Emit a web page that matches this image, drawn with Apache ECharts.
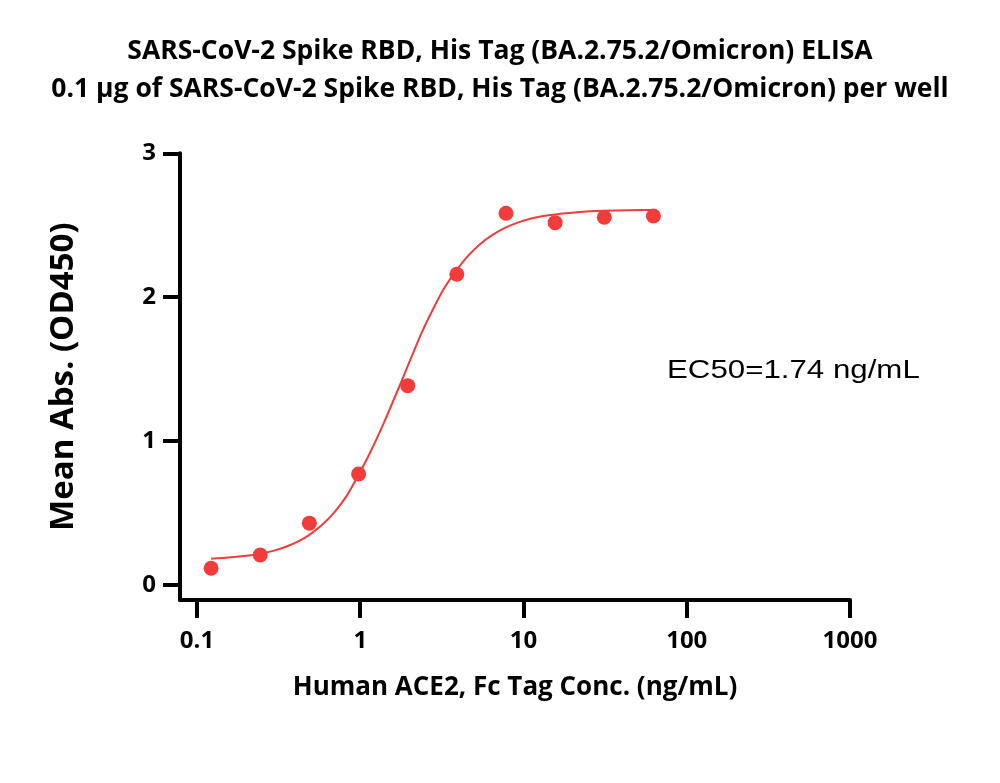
<!DOCTYPE html>
<html>
<head>
<meta charset="utf-8">
<script src="https://cdn.jsdelivr.net/npm/echarts@6/dist/echarts.min.js"></script>
<style>html,body{margin:0;padding:0;background:#fff}#c{width:1000px;height:783px}</style>
</head>
<body>
<div id="c"></div>
<script>
// measured points
const concentrations = [0.122, 0.244, 0.488, 0.977, 1.953, 3.906, 7.8125, 15.625, 31.25, 62.5];
const absorbance = [0.116, 0.208, 0.429, 0.771, 1.385, 2.159, 2.583, 2.518, 2.555, 2.564];
// fitted curve
const curveX = [0.122, 0.15, 0.2, 0.244, 0.3, 0.35, 0.42, 0.488, 0.58, 0.7, 0.83, 0.977, 1.15, 1.4, 1.65, 1.953, 2.35, 2.8, 3.3, 3.906, 4.6, 5.5, 6.5, 7.8125, 9.3, 11, 13, 15.625, 22, 31.25, 44, 62.5];
const curveY = [0.182, 0.188, 0.202, 0.217, 0.24, 0.265, 0.304, 0.348, 0.414, 0.51, 0.622, 0.765, 0.92, 1.13, 1.32, 1.52, 1.74, 1.92, 2.07, 2.19, 2.29, 2.375, 2.435, 2.485, 2.52, 2.545, 2.562, 2.575, 2.592, 2.60, 2.604, 2.606];
const xTicks = [0.1, 1, 10, 100, 1000];
const yTicks = [0, 1, 2, 3];
const titleLines = ['SARS-CoV-2 Spike RBD, His Tag (BA.2.75.2/Omicron) ELISA', '0.1 µg of SARS-CoV-2 Spike RBD, His Tag (BA.2.75.2/Omicron) per well'];
const xName = 'Human ACE2, Fc Tag Conc. (ng/mL)';
const yName = 'Mean Abs. (OD450)';
const ec50Text = 'EC50=1.74 ng/mL';

const red = '#F23B3B';
const font = '"Open Sans", Lato, sans-serif';
const chart = echarts.init(document.getElementById('c'), null, {renderer: 'canvas'});
chart.setOption({
  backgroundColor: '#fff',
  animation: false,
  title: {
    text: titleLines.join('\n'),
    left: 'center', top: 27,
    textStyle: {fontFamily: font, fontWeight: 'bold', fontSize: 26.5, lineHeight: 38, color: '#000'}
  },
  grid: {left: 180, right: 150, top: 153.3, bottom: 183},
  xAxis: {
    type: 'log', logBase: 10, min: 0.0787, max: 1000,
    name: xName, nameLocation: 'middle', nameGap: 75,
    nameTextStyle: {fontFamily: font, fontWeight: 'bold', fontSize: 26, color: '#000'},
    axisLine: {show: true, onZero: false, lineStyle: {color: '#000', width: 4}},
    axisTick: {show: true, length: 18, customValues: xTicks, lineStyle: {color: '#000', width: 4}},
    axisLabel: {customValues: xTicks, margin: 29, fontFamily: font, fontWeight: 'bold', fontSize: 24, color: '#000',
      formatter: v => String(v)},
    splitLine: {show: false}, minorTick: {show: false}
  },
  yAxis: {
    type: 'value', min: -0.105, max: 3,
    name: yName, nameLocation: 'middle', nameGap: 100,
    nameTextStyle: {fontFamily: font, fontWeight: 'bold', fontSize: 33, color: '#000'},
    axisLine: {show: true, onZero: false, lineStyle: {color: '#000', width: 4}},
    axisTick: {show: true, length: 17, customValues: yTicks, lineStyle: {color: '#000', width: 4}},
    axisLabel: {customValues: yTicks, margin: 24, fontFamily: font, fontWeight: 'bold', fontSize: 24, color: '#000'},
    splitLine: {show: false}
  },
  graphic: [{
    type: 'text', x: 667, y: 359, scaleX: 1.25,
    style: {text: ec50Text, fontFamily: '"Liberation Sans", Arial, sans-serif', fontSize: 25, fill: '#000'}
  }],
  series: [
    {
      type: 'line', data: curveX.map((x, i) => [x, curveY[i]]),
      smooth: 0.2, showSymbol: false, lineStyle: {color: red, width: 2}, z: 2
    },
    {
      type: 'scatter', data: concentrations.map((x, i) => [x, absorbance[i]]),
      symbol: 'circle', symbolSize: 15, itemStyle: {color: red, opacity: 1}, z: 3
    }
  ]
});
</script>
</body>
</html>
